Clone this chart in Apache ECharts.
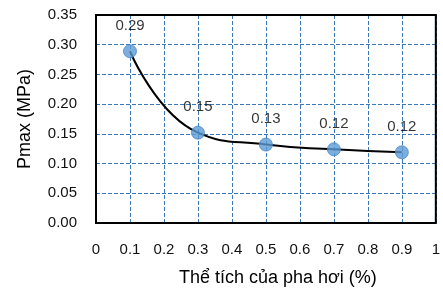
<!DOCTYPE html>
<html><head><meta charset="utf-8">
<script src="https://cdn.jsdelivr.net/npm/echarts@6/dist/echarts.min.js"></script>
<style>html,body{margin:0;padding:0;background:#fff}#c{width:443px;height:292px}</style>
</head><body><div id="c"></div>
<script>
const xValues = [0.1, 0.3, 0.5, 0.7, 0.9];
const pmax = [0.289, 0.152, 0.132, 0.124, 0.119];
const pointLabels = ['0.29', '0.15', '0.13', '0.12', '0.12'];
const xTitle = 'Thể tích của pha hơi (%)';
const yTitle = 'Pmax (MPa)';

const pts = xValues.map((x, i) => [x, pmax[i]]);
const font = 'Liberation Sans';
const chart = echarts.init(document.getElementById('c'));
chart.setOption({
  animation: false,
  grid: {left: 96, right: 3, top: 15, bottom: 62, show: true, borderColor: '#000', borderWidth: 2, z: 10},
  xAxis: {
    type: 'value', min: 0, max: 1, interval: 0.1,
    name: xTitle, nameLocation: 'middle', nameGap: 46,
    nameTextStyle: {fontFamily: font, fontSize: 18, color: '#000', padding: [0, 0, 0, 24]},
    axisLine: {show: false}, axisTick: {show: false},
    axisLabel: {fontFamily: font, fontSize: 15, color: '#111', margin: 19},
    splitLine: {show: true, lineStyle: {type: [4, 2], color: '#3a78b8', width: 1}}
  },
  yAxis: {
    type: 'value', min: 0, max: 0.35, interval: 0.05,
    name: yTitle, nameLocation: 'middle', nameGap: 62,
    nameTextStyle: {fontFamily: font, fontSize: 18, color: '#000'},
    axisLine: {show: false}, axisTick: {show: false},
    axisLabel: {fontFamily: font, fontSize: 15, color: '#111', margin: 19, formatter: v => v.toFixed(2)},
    splitLine: {show: true, lineStyle: {type: [4, 2], color: '#3a78b8', width: 1}}
  },
  series: [
    {type: 'line', data: pts, smooth: 0.5, symbol: 'none', lineStyle: {color: '#000', width: 2}, z: 3},
    {type: 'scatter', data: pts, symbolSize: 13, z: 4,
     itemStyle: {color: '#5b9bd5', borderColor: '#4a88c4', borderWidth: 1},
     label: {show: true, position: 'top', distance: 11, fontFamily: font, fontSize: 15, color: '#000',
       formatter: p => pointLabels[p.dataIndex]}}
  ]
});
</script></body></html>
